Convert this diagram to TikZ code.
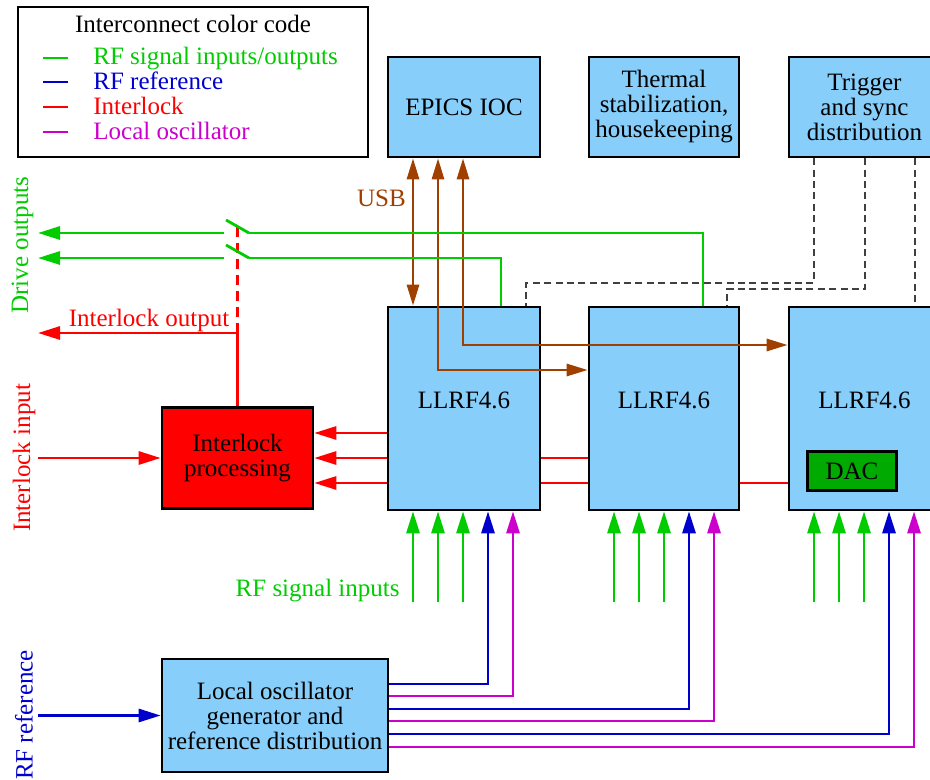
\documentclass[tikz,border=0pt]{standalone}
\usepackage{fontspec}
\setmainfont{Liberation Serif}
\usetikzlibrary{arrows.meta,calc}
\definecolor{cgreen}{RGB}{0,204,0}
\definecolor{cblue}{RGB}{0,0,204}
\definecolor{cred}{RGB}{255,0,0}
\definecolor{cmag}{RGB}{204,0,204}
\definecolor{cbrown}{RGB}{160,64,0}
\definecolor{cbox}{RGB}{135,206,250}
\definecolor{cdac}{RGB}{0,170,0}
\pgfdeclarelayer{bg}
\pgfsetlayers{bg,main}
\begin{document}
\begin{tikzpicture}[x=0.5pt,y=-0.5pt,
  every node/.style={font=\fontsize{12.5}{12.5}\selectfont, inner sep=0pt},
  blk/.style={draw=black, line width=1.3pt, fill=cbox, align=center},
  arr/.style={-{Triangle[length=11pt,width=6.5pt]}},
  darr/.style={{Triangle[length=10.5pt,width=6pt]}-{Triangle[length=10.5pt,width=6pt]}},
  gw/.style={draw=cgreen, line width=1.4pt},
  bw/.style={draw=cblue, line width=1.4pt},
  rw/.style={draw=cred, line width=1.4pt},
  mw/.style={draw=cmag, line width=1.4pt},
  usb/.style={draw=cbrown, line width=1.4pt},
  trig/.style={draw=black!75, dash pattern=on 3.5pt off 2.2pt, line width=0.75pt},
  rdash/.style={draw=cred, dash pattern=on 5pt off 3pt, line width=1.4pt}
]
\useasboundingbox (0,0) rectangle (930,780);

% legend
\node[draw, line width=0.6pt, minimum width=175pt, minimum height=75pt] (legend) at (193,82) {};
\node[anchor=base] (lt) at (193,33) {Interconnect color code};
\draw[gw] (43,58) -- (68,58);
\node[anchor=base west, text=cgreen] (lg1) at (93,65) {RF signal inputs/outputs};
\draw[bw] (43,82) -- (68,82);
\node[anchor=base west, text=cblue] (lg2) at (93,90) {RF reference};
\draw[rw] (43,107) -- (68,107);
\node[anchor=base west, text=cred] (lg3) at (93,115) {Interlock};
\draw[mw] (43,132) -- (68,132);
\node[anchor=base west, text=cmag] (lg4) at (93,140) {Local oscillator};

% top boxes
\node[blk, minimum width=76pt, minimum height=50pt] (epics) at (464,107) {EPICS IOC};
\node[blk, minimum width=75pt, minimum height=50pt] (therm) at (664,107) {Thermal\\stabilization,\\housekeeping};
\node[blk, minimum width=75.5pt, minimum height=50pt] (trig) at (864.5,107) {Trigger\\and sync\\distribution};

% LLRF boxes
\node[blk, minimum width=76pt, minimum height=101.5pt] (l1) at (464,408.5) {};
\node[blk, minimum width=75pt, minimum height=101.5pt] (l2) at (664,408.5) {};
\node[blk, minimum width=75.5pt, minimum height=101.5pt] (l3) at (864.5,408.5) {};
\node (l1t) at (464,400) {LLRF4.6};
\node (l2t) at (664,400) {LLRF4.6};
\node (l3t) at (864.5,400) {LLRF4.6};
\node[draw=black, line width=1.3pt, fill=cdac, minimum width=44.5pt, minimum height=19.5pt] (dac) at (852,471) {DAC};

% interlock box
\node[draw=black, line width=1.3pt, fill=cred, align=center, minimum width=75.5pt, minimum height=50.5pt] (ilk) at (237.5,458) {Interlock\\processing};

% LO box
\node[blk, minimum width=113pt, minimum height=56.5pt] (lo) at (275,715.5) {Local oscillator\\generator and\\reference distribution};

% interlock lines (behind boxes)
\begin{pgfonlayer}{bg}
\draw[rw,arr] (l1.west |- 0,433) -- (ilk.east |- 0,433);
\draw[rw,arr] (l2.west |- 0,458) -- (ilk.east);
\draw[rw,arr] (l3.west |- 0,483) -- (ilk.east |- 0,483);
\end{pgfonlayer}

% interlock input / output
\coordinate (iin) at (38,458);
\coordinate (iout) at (38,333);
\coordinate (iknee) at (237.5,333);
\draw[rw,arr] (iin) -- (ilk.west);
\draw[rw,arr] (ilk.north) -- (iknee) -- (iout);
\draw[rdash] (iknee) -- (237.5,222);
\node[anchor=base, text=cred] (iolab) at (149,327) {Interlock output};
\node[rotate=90, text=cred] (iinlab) at (24,458) {Interlock input};

% trigger dashed lines
\draw[trig] (trig.south -| 814,0) |- (526,283) -- (l1.north -| 526,0);
\draw[trig] (trig.south -| 865,0) |- (727,289) -- (l2.north -| 727,0);
\draw[trig] (trig.south -| 915,0) -- (l3.north -| 915,0);

% USB
\draw[usb,darr] (epics.south -| 413,0) -- (l1.north -| 413,0);
\draw[usb,darr] (epics.south -| 438,0) |- (l2.west |- 0,370);
\draw[usb,darr] (epics.south -| 463,0) |- (l3.west |- 0,345);
\node[anchor=base, text=cbrown] (usblab) at (381.5,207) {USB};

% drive outputs
\coordinate (dout1) at (38,233);
\coordinate (dout2) at (38,258);
\draw[gw] (l2.north -| 703,0) |- (249,233);
\draw[gw] (226,220) -- (249,233);
\draw[gw,arr] (224,233) -- (dout1);
\draw[gw] (l1.north -| 501,0) |- (249,258);
\draw[gw] (226,245) -- (249,258);
\draw[gw,arr] (224,258) -- (dout2);
\node[rotate=90, text=cgreen] (doutlab) at (22.5,245) {Drive outputs};

% RF signal inputs
\foreach \x in {413,438,463} \draw[gw,arr] (\x,602) -- (l1.south -| \x,0);
\foreach \x in {614,639,664} \draw[gw,arr] (\x,602) -- (l2.south -| \x,0);
\foreach \x in {814,839,864} \draw[gw,arr] (\x,602) -- (l3.south -| \x,0);
\node[anchor=base east, text=cgreen] (rfsig) at (400,596) {RF signal inputs};

% reference and LO distribution
\draw[bw,arr] (lo.east |- 0,684) -| (l1.south -| 488,0);
\draw[mw,arr] (lo.east |- 0,696) -| (l1.south -| 513,0);
\draw[bw,arr] (lo.east |- 0,709) -| (l2.south -| 689,0);
\draw[mw,arr] (lo.east |- 0,721) -| (l2.south -| 714,0);
\draw[bw,arr] (lo.east |- 0,734) -| (l3.south -| 889,0);
\draw[mw,arr] (lo.east |- 0,747) -| (l3.south -| 914,0);

\coordinate (rfin) at (38,715.5);
\draw[bw,arr] (rfin) -- (lo.west);
\node[rotate=90, text=cblue] (rfreflab) at (24,715) {RF reference};
\end{tikzpicture}
\end{document}
